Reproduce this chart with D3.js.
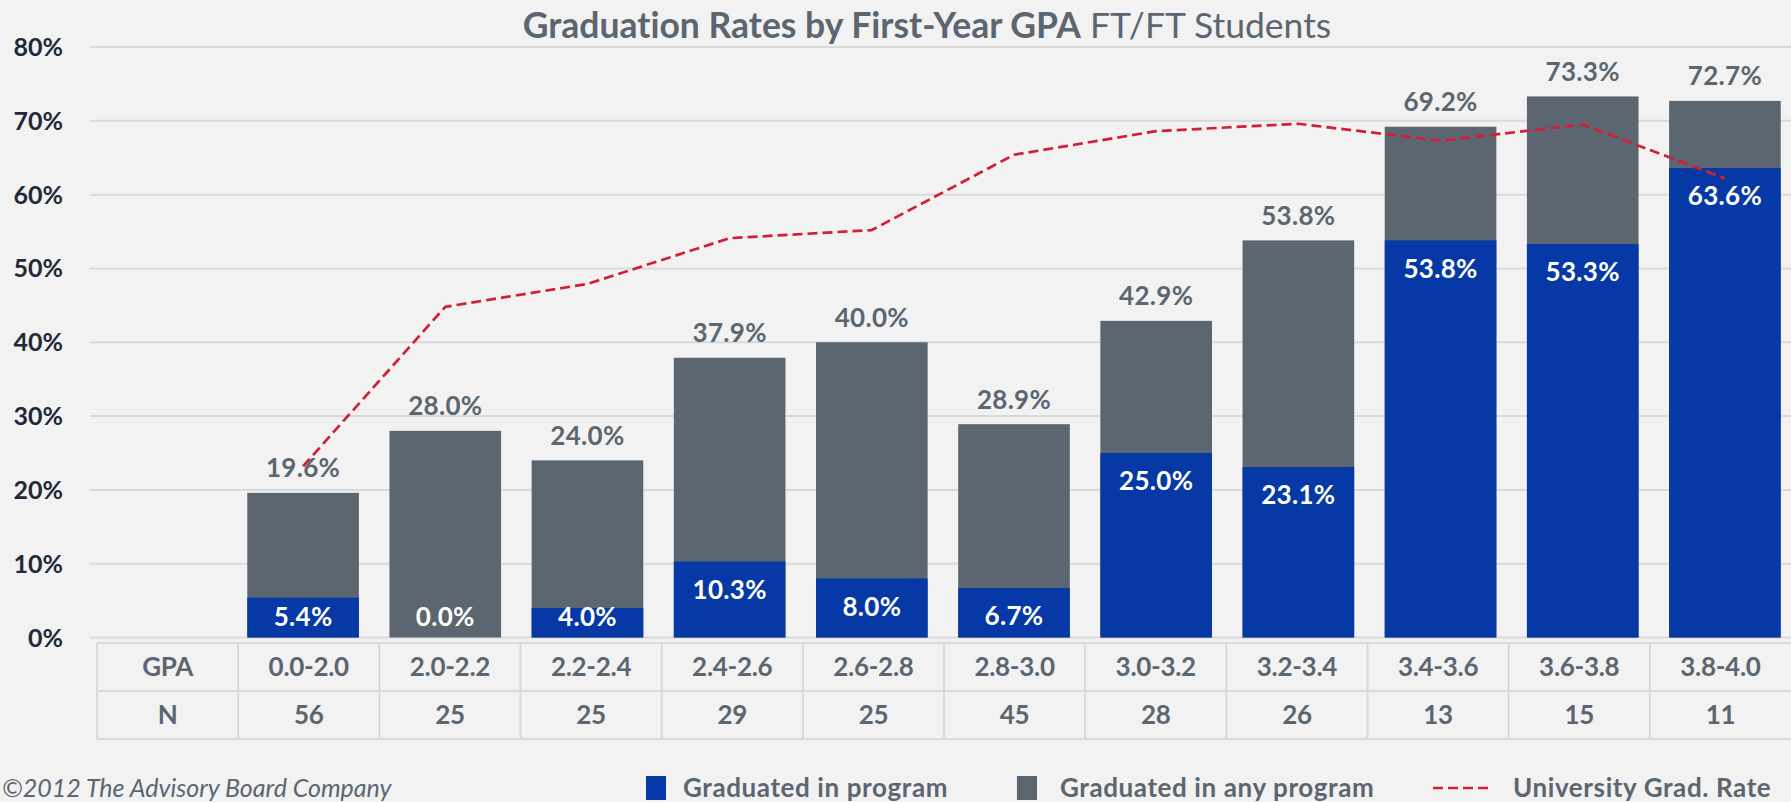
<!DOCTYPE html>
<html><head><meta charset="utf-8">
<script src="https://cdn.jsdelivr.net/npm/d3@7"></script>
<style>
body{margin:0;background:#f2f2f2;}
svg{display:block;font-family:Lato,'Open Sans',sans-serif;font-variant-ligatures:none;}
</style>
</head><body><svg id="c" width="1791" height="802"></svg>
<script>
// ---- data ----
const categories = ["0.0-2.0","2.0-2.2","2.2-2.4","2.4-2.6","2.6-2.8","2.8-3.0","3.0-3.2","3.2-3.4","3.4-3.6","3.6-3.8","3.8-4.0"];
const nCounts = [56,25,25,29,25,45,28,26,13,15,11];
const gradAny = [19.6,28.0,24.0,37.9,40.0,28.9,42.9,53.8,69.2,73.3,72.7];
const gradProgram = [5.4,0.0,4.0,10.3,8.0,6.7,25.0,23.1,53.8,53.3,63.6];
const univRate = [23.2,44.8,47.9,54.1,55.2,65.4,68.6,69.6,67.3,69.5,62.2];
const yTicks = [0,10,20,30,40,50,60,70,80];
const rowLabels = ["GPA","N"];
const seriesNames = ["Graduated in program","Graduated in any program","University Grad. Rate"];
const titleBold = "Graduation Rates by First-Year GPA";
const titleLight = "FT/FT Students";
const footer = "\u00A92012 The Advisory Board Company";

// ---- style ----
const C = {blue:"#0639a6", gray:"#5b6670", grid:"#d9d9d9", text:"#5b6670", axis:"#1f2937", red:"#d31f35", bg:"#f2f2f2"};

const svg = d3.select("#c");
svg.append("rect").attr("width",1791).attr("height",802).attr("fill",C.bg);

const y = d3.scaleLinear().domain([0,80]).range([637.5,47]);
const xBar = d3.scaleBand().domain(categories).range([232,1796]).paddingInner(0.215).paddingOuter(0.1075);
const xCol = d3.scaleBand().domain(["_label", ...categories]).range([97,1791]);

// gridlines + y labels
const g = svg.append("g");
g.selectAll("line.grid").data(yTicks).join("line")
  .attr("x1",90).attr("x2",1791)
  .attr("y1",d=>y(d)).attr("y2",d=>y(d))
  .attr("stroke",C.grid).attr("stroke-width",2);
g.selectAll("text.yl").data(yTicks).join("text")
  .attr("x",63).attr("y",d=>y(d)).attr("dy","0.36em")
  .attr("text-anchor","end").attr("font-size",25).attr("font-weight","bold")
  .attr("fill",C.axis).text(d=>d+"%");

// bars
const idx = d3.range(categories.length);
svg.selectAll("rect.any").data(idx).join("rect")
  .attr("x",i=>xBar(categories[i])).attr("width",xBar.bandwidth())
  .attr("y",i=>y(gradAny[i])).attr("height",i=>y(0)-y(gradAny[i]))
  .attr("fill",C.gray);
svg.selectAll("rect.prog").data(idx).join("rect")
  .attr("x",i=>xBar(categories[i])).attr("width",xBar.bandwidth())
  .attr("y",i=>y(gradProgram[i])).attr("height",i=>y(0)-y(gradProgram[i]))
  .attr("fill",C.blue);

// labels
svg.selectAll("text.anyl").data(idx).join("text")
  .attr("x",i=>xBar(categories[i])+xBar.bandwidth()/2)
  .attr("y",i=>y(gradAny[i])-25).attr("dy","0.36em")
  .attr("text-anchor","middle").attr("font-size",26).attr("font-weight","bold")
  .attr("letter-spacing",0.3)
  .attr("fill",C.text).text(i=>gradAny[i].toFixed(1)+"%");
svg.selectAll("text.progl").data(idx).join("text")
  .attr("x",i=>xBar(categories[i])+xBar.bandwidth()/2)
  .attr("y",i=>Math.min(y(gradProgram[i])+28, y(0)-21)).attr("dy","0.36em")
  .attr("text-anchor","middle").attr("font-size",26).attr("font-weight","bold")
  .attr("letter-spacing",0.3)
  .attr("fill","#ffffff").text(i=>gradProgram[i].toFixed(1)+"%");

// university line
const line = d3.line()
  .x((d,i)=>xBar(categories[i])+xBar.bandwidth()/2)
  .y(d=>y(d)).curve(d3.curveLinear);
svg.append("path").datum(univRate).attr("d",line)
  .attr("fill","none").attr("stroke",C.red).attr("stroke-width",2.7)
  .attr("stroke-linejoin","round")
  .attr("stroke-dasharray","10,5");

// title
const t = svg.append("text").attr("x",927).attr("y",38).attr("text-anchor","middle")
  .attr("font-size",35.5).attr("fill",C.text);
t.append("tspan").attr("font-weight","bold").text(titleBold);
t.append("tspan").attr("font-weight","normal").text(" "+titleLight);

// table
const tb = svg.append("g");
const rowY = [643,691,739];
const tL = 97, tR = 1791;
rowY.forEach(v=>tb.append("line").attr("x1",tL).attr("x2",tR).attr("y1",v).attr("y2",v).attr("stroke",C.grid).attr("stroke-width",2));
xCol.domain().forEach(k=>tb.append("line").attr("x1",xCol(k)).attr("x2",xCol(k)).attr("y1",rowY[0]).attr("y2",rowY[2]).attr("stroke",C.grid).attr("stroke-width",2));
const rows = [categories, nCounts];
rows.forEach((r,ri)=>{
  const cy = (rowY[ri]+rowY[ri+1])/2;
  tb.append("text").attr("x",xCol("_label")+xCol.bandwidth()/2).attr("y",cy).attr("dy","0.36em")
    .attr("text-anchor","middle").attr("font-size",26).attr("font-weight","bold").attr("letter-spacing",-0.3)
    .attr("fill",C.text).text(rowLabels[ri]);
  tb.selectAll(null).data(r).join("text")
    .attr("x",(d,i)=>xCol(categories[i])+xCol.bandwidth()/2).attr("y",cy).attr("dy","0.36em")
    .attr("text-anchor","middle").attr("font-size",26).attr("font-weight","bold").attr("letter-spacing",-0.3)
    .attr("fill",C.text).text(d=>d);
});

// footer
svg.append("text").attr("x",2).attr("y",797).attr("text-anchor","start")
  .attr("font-size",25).attr("font-style","italic").attr("fill",C.text).text(footer);

// legend
const lg = svg.append("g");
const lx = [646,1017,1433];
const ly = 788;
lg.append("rect").attr("x",lx[0]).attr("y",ly-12).attr("width",20).attr("height",24).attr("fill",C.blue);
lg.append("rect").attr("x",lx[1]).attr("y",ly-12).attr("width",20).attr("height",24).attr("fill",C.gray);
lg.append("line").attr("x1",lx[2]).attr("x2",lx[2]+58).attr("y1",ly).attr("y2",ly).attr("stroke",C.red).attr("stroke-width",2.7).attr("stroke-dasharray","10,5");
const ltx = [683,1060,1513];
seriesNames.forEach((s,i)=>lg.append("text").attr("x",ltx[i]).attr("y",ly).attr("dy","0.36em")
  .attr("font-size",26).attr("font-weight","bold").attr("letter-spacing",0.6).attr("fill",C.text).text(s));
</script>
</body></html>
